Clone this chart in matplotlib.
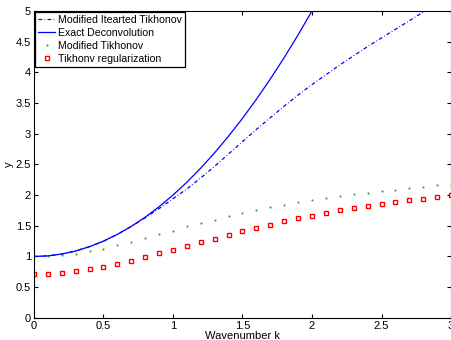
import matplotlib
matplotlib.use('Agg')
from matplotlib import pyplot as plt

plt.rcParams['font.family'] = ['Liberation Sans', 'DejaVu Sans']

# wavenumber grid (0 .. 3 in steps of 0.1)
k = [i / 10 for i in range(31)]

# values
iter_tikh = [1.00, 1.01, 1.04, 1.09, 1.16, 1.25, 1.36, 1.49, 1.63, 1.78,
             1.94, 2.10, 2.28, 2.47, 2.67, 2.87, 3.07, 3.26, 3.45, 3.63,
             3.80, 3.96, 4.12, 4.27, 4.42, 4.56, 4.70, 4.84, 4.98, 5.11, 5.24]
exact = [1.00, 1.01, 1.04, 1.09, 1.16, 1.25, 1.36, 1.49, 1.64, 1.81,
         2.00, 2.21, 2.44, 2.69, 2.96, 3.25, 3.56, 3.89, 4.24, 4.61, 5.00]
mod_tikh = [1.00, 1.005, 1.02, 1.04, 1.09, 1.13, 1.18, 1.24, 1.30, 1.36,
            1.42, 1.49, 1.55, 1.60, 1.66, 1.71, 1.75, 1.80, 1.84, 1.88,
            1.92, 1.95, 1.99, 2.01, 2.04, 2.07, 2.09, 2.11, 2.13, 2.16, 2.17]
tikh = [0.72, 0.72, 0.73, 0.76, 0.79, 0.83, 0.88, 0.93, 0.99, 1.05,
        1.11, 1.17, 1.23, 1.29, 1.35, 1.41, 1.47, 1.52, 1.57, 1.62,
        1.66, 1.71, 1.75, 1.79, 1.82, 1.85, 1.88, 1.92, 1.94, 1.97, 2.00]

xticks = [0, 0.5, 1, 1.5, 2, 2.5, 3]
xtick_labels = ['0', '0.5', '1', '1.5', '2', '2.5', '3']
yticks = [0, 0.5, 1, 1.5, 2, 2.5, 3, 3.5, 4, 4.5, 5]
ytick_labels = ['0', '0.5', '1', '1.5', '2', '2.5', '3', '3.5', '4', '4.5', '5']

fig = plt.figure(dpi=100, figsize=(4.52, 3.40))
ax = fig.add_axes([0.075, 0.065, 0.923, 0.903])

ax.plot(k, iter_tikh, color='blue', lw=0.9, dashes=(3, 1.8, 0.6, 1.8),
        label='Modified Itearted Tikhonov')
ax.plot(k[:len(exact)], exact, '-', color='blue', lw=0.9, label='Exact Deconvolution')
ax.plot(k, mod_tikh, '.', color='green', ms=1.5, alpha=0.55, label='Modified Tikhonov')
ax.plot(k, tikh, 's', color='red', mfc='white', ms=3.2, mew=1.0, label='Tikhonv regularization')

ax.set_xlim(0, 3)
ax.set_ylim(0, 5)
ax.set_xticks(xticks)
ax.set_xticklabels(xtick_labels)
ax.set_yticks(yticks)
ax.set_yticklabels(ytick_labels)
ax.tick_params(axis='both', direction='in', top=True, right=True,
               labelsize=8, length=3, pad=2)
ax.set_xlabel('Wavenumber k', fontsize=8, labelpad=0)
ax.set_ylabel('y', fontsize=8)
ax.yaxis.set_label_coords(-0.048, 0.5)

leg = ax.legend(loc='upper left', fontsize=7.6, handlelength=1.6, handletextpad=0.3,
                borderpad=0.25, labelspacing=0.28, borderaxespad=0.15,
                fancybox=False, framealpha=1)
leg.get_frame().set_edgecolor('black')
leg.get_frame().set_linewidth(0.9)

plt.savefig('out.png', dpi=100)
